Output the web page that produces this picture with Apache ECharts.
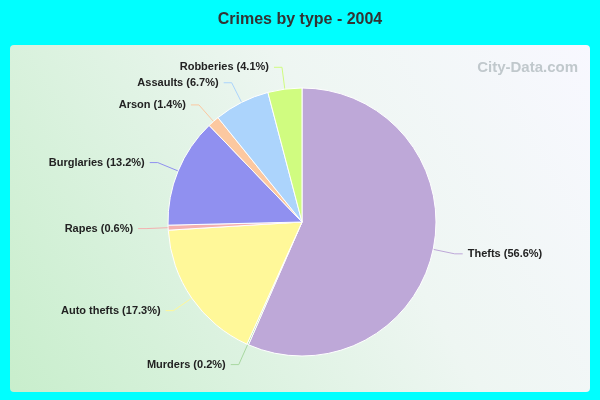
<!DOCTYPE html><html><head><meta charset="utf-8">
<script src="https://cdn.jsdelivr.net/npm/echarts@6/dist/echarts.min.js"></script>
<style>html,body{margin:0;padding:0;background:#00ffff}#c{width:600px;height:400px}</style></head><body><div id="c"></div>
<script>
const categories=["Thefts","Murders","Auto thefts","Rapes","Burglaries","Arson","Assaults","Robberies"];
const values=[56.6,0.2,17.3,0.6,13.2,1.4,6.7,4.1];
const colors=["#bea8d8","#a8d8a0","#fff899","#f4b0b0","#9090f0","#fcc8a0","#acd4fc","#d0fc80"];
const chart=echarts.init(document.getElementById('c'));
chart.setOption({
 backgroundColor:'#00ffff',
 title:{text:'Crimes by type - 2004',left:'center',top:7,textStyle:{fontFamily:'Arial',fontSize:16,fontWeight:'bold',color:'#333'}},
 graphic:[{type:'rect',left:10,top:45,shape:{width:580,height:347,r:4},z:-10,
   style:{fill:new echarts.graphic.LinearGradient(0,1,1,0,[{offset:0,color:'#c8eecc'},{offset:0.6,color:'#eef6f2'},{offset:1,color:'#f8f8ff'}])}},
  {type:'text',right:22,top:60,z:-5,style:{text:'City-Data.com',fill:'#c0c8cc',font:'bold 15px Arial'}}],
 series:[{type:'pie',center:[302,222],radius:134,startAngle:90,clockwise:true,
  data:categories.map((n,i)=>({name:n,value:values[i],itemStyle:{color:colors[i]}})),
  itemStyle:{borderColor:'#fff',borderWidth:1},
  label:{formatter:p=>p.name+' ('+p.value+'%)',fontFamily:'Arial',fontSize:11,fontWeight:'bold',color:'#222'},
  labelLine:{length:22,length2:8,lineStyle:{width:1}},
  avoidLabelOverlap:true}]
});
</script></body></html>
